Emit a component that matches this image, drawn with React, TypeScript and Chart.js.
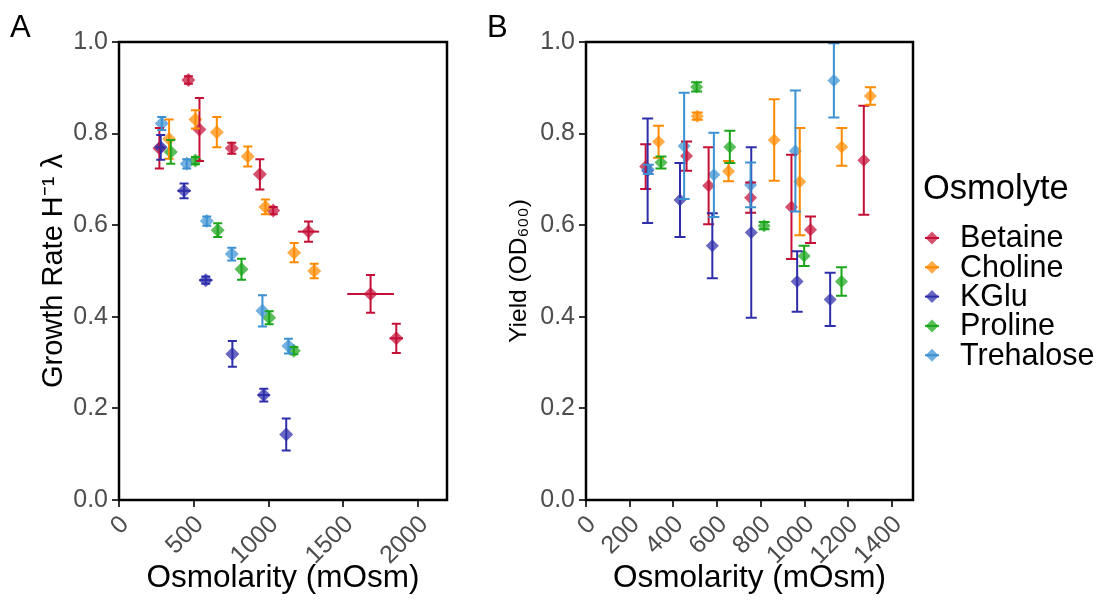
import React, { useEffect, useRef } from "react";
import { Chart, registerables } from "chart.js";

Chart.register(...registerables);

const FONT = "'Liberation Sans', Arial, Helvetica, sans-serif";
Chart.defaults.font.family = FONT;

// ---------- categories / styles ----------
const osmolytes = ["Betaine", "Choline", "KGlu", "Proline", "Trehalose"];
const lineColors = ["#C40F36", "#FF8A00", "#2E2EAA", "#1AA51A", "#3C91D2"];
const fillColors = [
  "rgba(196,15,54,0.72)",
  "rgba(255,138,0,0.72)",
  "rgba(46,46,170,0.72)",
  "rgba(26,165,26,0.72)",
  "rgba(60,145,210,0.72)",
];

// ---------- Panel A: growth rate ----------
const betaineOsmA = [270, 464, 538, 754, 942, 1031, 1267, 1682, 1854];
const betaineRateA = [0.768, 0.917, 0.809, 0.768, 0.711, 0.632, 0.586, 0.45, 0.353];
const betaineRateErrA = [0.044, 0.008, 0.069, 0.012, 0.033, 0.008, 0.022, 0.041, 0.032];
const betaineOsmErrA = [0, 0, 0, 0, 0, 0, 71, 156, 45];

const cholineOsmA = [335, 511, 654, 861, 979, 1171, 1305];
const cholineRateA = [0.788, 0.831, 0.803, 0.75, 0.64, 0.54, 0.5];
const cholineRateErrA = [0.043, 0.02, 0.033, 0.022, 0.016, 0.021, 0.016];
const cholineOsmErrA = [0, 0, 0, 0, 0, 0, 0];

const kgluOsmA = [279, 435, 580, 758, 968, 1118];
const kgluRateA = [0.77, 0.675, 0.48, 0.319, 0.229, 0.143];
const kgluRateErrA = [0.027, 0.016, 0.008, 0.028, 0.014, 0.035];
const kgluOsmErrA = [30, 44, 44, 0, 40, 0];

const prolineOsmA = [346, 511, 660, 819, 1004, 1169];
const prolineRateA = [0.76, 0.741, 0.589, 0.504, 0.398, 0.326];
const prolineRateErrA = [0.026, 0.008, 0.015, 0.023, 0.014, 0.008];
const prolineOsmErrA = [0, 0, 0, 0, 0, 0];

const trehaloseOsmA = [286, 453, 587, 754, 959, 1133];
const trehaloseRateA = [0.822, 0.734, 0.609, 0.537, 0.413, 0.336];
const trehaloseRateErrA = [0.014, 0.01, 0.01, 0.014, 0.034, 0.016];
const trehaloseOsmErrA = [0, 0, 0, 0, 0, 0];

// ---------- Panel B: yield ----------
const betaineOsmB = [273, 460, 561, 753, 940, 1027, 1271];
const betaineYieldB = [0.728, 0.751, 0.686, 0.66, 0.64, 0.59, 0.742];
const betaineYieldErrB = [0.049, 0.032, 0.084, 0.033, 0.114, 0.029, 0.119];

const cholineOsmB = [332, 509, 652, 861, 978, 1170, 1301];
const cholineYieldB = [0.782, 0.838, 0.718, 0.786, 0.695, 0.771, 0.882];
const cholineYieldErrB = [0.035, 0.008, 0.022, 0.089, 0.117, 0.041, 0.019];

const kgluOsmB = [282, 430, 578, 756, 966, 1117];
const kgluYieldB = [0.719, 0.655, 0.555, 0.584, 0.477, 0.438];
const kgluYieldErrB = [0.114, 0.081, 0.071, 0.186, 0.066, 0.058];

const prolineOsmB = [343, 506, 658, 815, 998, 1169];
const prolineYieldB = [0.737, 0.902, 0.771, 0.599, 0.533, 0.477];
const prolineYieldErrB = [0.013, 0.01, 0.035, 0.008, 0.022, 0.031];

const trehaloseOsmB = [285, 449, 585, 753, 958, 1134];
const trehaloseYieldB = [0.722, 0.773, 0.71, 0.688, 0.762, 0.916];
const trehaloseYieldErrB = [0.01, 0.116, 0.092, 0.049, 0.132, 0.081];

// ---------- axis settings / tick labels ----------
const xMaxA = 2193;
const xTicksA = [0, 500, 1000, 1500, 2000];
const xMaxB = 1496;
const xTicksB = [0, 200, 400, 600, 800, 1000, 1200, 1400];
const yMin = 0;
const yMax = 1;
const yTicks = [0, 0.2, 0.4, 0.6, 0.8, 1.0];

function buildDatasets(
  osm: number[][],
  vals: number[][],
  errs: number[][],
  xErrs: number[][] | null,
  radius: number
) {
  return osmolytes.map((name, i) => ({
    label: name,
    data: osm[i].map((x, j) => ({ x, y: vals[i][j] })),
    yErr: errs[i],
    xErr: xErrs ? xErrs[i] : null,
    errColor: lineColors[i],
    backgroundColor: fillColors[i],
    borderWidth: 0,
    pointStyle: "rectRot",
    pointRadius: radius,
    pointHoverRadius: radius,
    order: osmolytes.length - i,
  }));
}

const errorBarPlugin = {
  id: "errorBars",
  afterDatasetsDraw(chart: any, _args: any, opts: any) {
    const ctx = chart.ctx;
    const xs = chart.scales.x;
    const ys = chart.scales.y;
    const cap = opts.cap || 4;
    chart.data.datasets.forEach((ds: any, di: number) => {
      const meta = chart.getDatasetMeta(di);
      ctx.save();
      ctx.strokeStyle = ds.errColor;
      ctx.lineWidth = 2;
      ds.data.forEach((pt: any, i: number) => {
        const el = meta.data[i];
        const px = el.x;
        const py = el.y;
        const e = ds.yErr ? ds.yErr[i] : 0;
        if (e) {
          const t = ys.getPixelForValue(pt.y + e);
          const b = ys.getPixelForValue(pt.y - e);
          ctx.beginPath();
          ctx.moveTo(px, t);
          ctx.lineTo(px, b);
          ctx.moveTo(px - cap, t);
          ctx.lineTo(px + cap, t);
          ctx.moveTo(px - cap, b);
          ctx.lineTo(px + cap, b);
          ctx.stroke();
        }
        const xe = ds.xErr ? ds.xErr[i] : 0;
        if (xe) {
          const l = xs.getPixelForValue(pt.x - xe);
          const r = xs.getPixelForValue(pt.x + xe);
          ctx.beginPath();
          ctx.moveTo(l, py);
          ctx.lineTo(r, py);
          ctx.stroke();
        }
      });
      ctx.restore();
    });
  },
};

const framePlugin = {
  id: "frame",
  afterDraw(chart: any, _args: any, opts: any) {
    const { ctx, chartArea } = chart;
    ctx.save();
    ctx.strokeStyle = "#000";
    ctx.lineWidth = 2.5;
    ctx.strokeRect(
      chartArea.left,
      chartArea.top,
      chartArea.right - chartArea.left,
      chartArea.bottom - chartArea.top
    );
    if (opts.tag) {
      ctx.fillStyle = "#000";
      ctx.font = `31px ${FONT}`;
      ctx.textBaseline = "alphabetic";
      ctx.textAlign = "left";
      ctx.fillText(opts.tag, opts.tagX, opts.tagY);
    }
    ctx.restore();
  },
};

const legendPlugin = {
  id: "customLegend",
  afterDraw(chart: any, _args: any, opts: any) {
    if (!opts.show) return;
    const ctx = chart.ctx;
    ctx.save();
    ctx.fillStyle = "#000";
    ctx.textAlign = "left";
    ctx.textBaseline = "alphabetic";
    ctx.font = `34.5px ${FONT}`;
    ctx.fillText(opts.title, opts.x, opts.titleY);
    ctx.font = `30.5px ${FONT}`;
    ctx.textBaseline = "middle";
    chart.data.datasets.forEach((ds: any, i: number) => {
      const cy = opts.firstY + i * opts.rowH;
      const cx = opts.x + 9;
      const r = 6.5;
      ctx.fillStyle = ds.backgroundColor;
      ctx.beginPath();
      ctx.moveTo(cx, cy - r);
      ctx.lineTo(cx + r, cy);
      ctx.lineTo(cx, cy + r);
      ctx.lineTo(cx - r, cy);
      ctx.closePath();
      ctx.fill();
      ctx.strokeStyle = ds.errColor;
      ctx.lineWidth = 2;
      ctx.beginPath();
      ctx.moveTo(cx - 7, cy);
      ctx.lineTo(cx + 7, cy);
      ctx.stroke();
      ctx.fillStyle = "#000";
      ctx.fillText(ds.label, opts.x + 37, cy + 1);
    });
    ctx.restore();
  },
};

function makeOptions(p: {
  xMax: number;
  xTicks: number[];
  yWidth: number;
  rightPad: number;
  yTitle: string;
  yTitleSize: number;
  yTitlePad: number;
  cap: number;
  tag: string;
  tagX: number;
  legend: any;
}) {
  const tickFont = { family: FONT, size: 25 };
  const grid = {
    drawOnChartArea: false,
    drawTicks: true,
    tickLength: 7,
    color: "#333333",
    lineWidth: 2,
  };
  return {
    animation: false,
    responsive: false,
    devicePixelRatio: 1,
    events: [],
    layout: { padding: { top: 42, right: p.rightPad, left: 0, bottom: 0 } },
    plugins: {
      legend: { display: false },
      tooltip: { enabled: false },
      errorBars: { cap: p.cap },
      frame: { tag: p.tag, tagX: p.tagX, tagY: 37 },
      customLegend: p.legend,
    },
    scales: {
      x: {
        type: "linear",
        min: 0,
        max: p.xMax,
        afterFit: (s: any) => {
          s.height = 101;
        },
        afterBuildTicks: (s: any) => {
          s.ticks = p.xTicks.map((v) => ({ value: v }));
        },
        ticks: {
          autoSkip: false,
          minRotation: 45,
          maxRotation: 45,
          padding: 3,
          labelOffset: 6,
          color: "#4D4D4D",
          font: tickFont,
          callback: (v: any) => String(v),
        },
        grid,
        border: { display: false },
        title: {
          display: true,
          text: "Osmolarity (mOsm)",
          color: "#000",
          font: { family: FONT, size: 31.5 },
          padding: { top: 0, bottom: 4 },
        },
      },
      y: {
        type: "linear",
        min: yMin,
        max: yMax,
        afterFit: (s: any) => {
          s.width = p.yWidth;
        },
        afterBuildTicks: (s: any) => {
          s.ticks = yTicks.map((v) => ({ value: v }));
        },
        ticks: {
          autoSkip: false,
          padding: 4,
          color: "#4D4D4D",
          font: tickFont,
          callback: (v: any) => Number(v).toFixed(1),
        },
        grid,
        border: { display: false },
        title: {
          display: true,
          text: p.yTitle,
          color: "#000",
          font: { family: FONT, size: p.yTitleSize },
          padding: { top: p.yTitlePad, bottom: 0 },
        },
      },
    },
  };
}

export default function App() {
  const refA = useRef<HTMLCanvasElement | null>(null);
  const refB = useRef<HTMLCanvasElement | null>(null);

  useEffect(() => {
    const dsA = buildDatasets(
      [betaineOsmA, cholineOsmA, kgluOsmA, prolineOsmA, trehaloseOsmA],
      [betaineRateA, cholineRateA, kgluRateA, prolineRateA, trehaloseRateA],
      [betaineRateErrA, cholineRateErrA, kgluRateErrA, prolineRateErrA, trehaloseRateErrA],
      [betaineOsmErrA, cholineOsmErrA, kgluOsmErrA, prolineOsmErrA, trehaloseOsmErrA],
      7
    );
    const dsB = buildDatasets(
      [betaineOsmB, cholineOsmB, kgluOsmB, prolineOsmB, trehaloseOsmB],
      [betaineYieldB, cholineYieldB, kgluYieldB, prolineYieldB, trehaloseYieldB],
      [betaineYieldErrB, cholineYieldErrB, kgluYieldErrB, prolineYieldErrB, trehaloseYieldErrB],
      null,
      6.5
    );

    const chartA = new Chart(refA.current as HTMLCanvasElement, {
      type: "scatter",
      data: { datasets: dsA as any },
      options: makeOptions({
        xMax: xMaxA,
        xTicks: xTicksA,
        yWidth: 119,
        rightPad: 23,
        yTitle: "Growth Rate H\u207B\u00B9 \u03BB",
        yTitleSize: 29,
        yTitlePad: 37,
        cap: 4.5,
        tag: "A",
        tagX: 10,
        legend: { show: false },
      }) as any,
      plugins: [errorBarPlugin, framePlugin, legendPlugin],
    });

    const chartB = new Chart(refB.current as HTMLCanvasElement, {
      type: "scatter",
      data: { datasets: dsB as any },
      options: makeOptions({
        xMax: xMaxB,
        xTicks: xTicksB,
        yWidth: 116,
        rightPad: 186,
        yTitle: "Yield (OD\u2086\u2080\u2080)",
        yTitleSize: 24.5,
        yTitlePad: 35,
        cap: 5.5,
        tag: "B",
        tagX: 17,
        legend: {
          show: true,
          title: "Osmolyte",
          x: 453,
          titleY: 199,
          firstY: 238,
          rowH: 29.3,
        },
      }) as any,
      plugins: [errorBarPlugin, framePlugin, legendPlugin],
    });

    return () => {
      chartA.destroy();
      chartB.destroy();
    };
  }, []);

  return (
    <div
      style={{
        position: "absolute",
        left: 0,
        top: 0,
        width: 1099,
        height: 601,
        background: "#ffffff",
        overflow: "hidden",
      }}
    >
      <canvas
        ref={refA}
        width={470}
        height={601}
        style={{ position: "absolute", left: 0, top: 0 }}
      />
      <canvas
        ref={refB}
        width={629}
        height={601}
        style={{ position: "absolute", left: 470, top: 0 }}
      />
    </div>
  );
}
